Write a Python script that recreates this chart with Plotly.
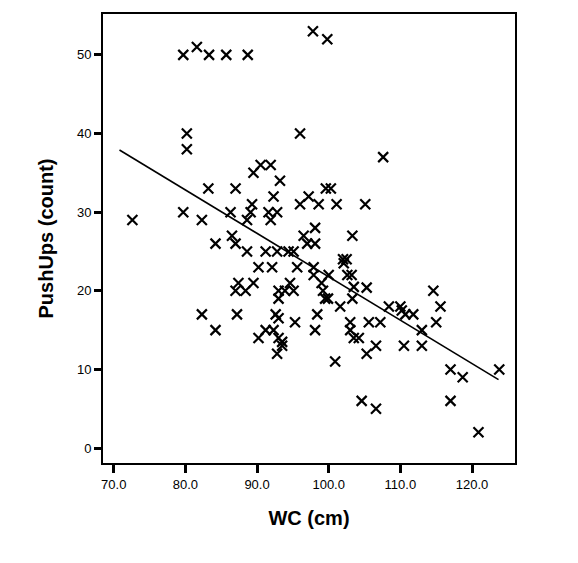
import plotly.graph_objects as go

# Waist circumference (cm) and push-ups (count)
wc = [79.7, 81.6, 83.3, 85.7, 88.7, 97.8, 99.8, 80.2, 80.2, 96.0, 107.6,
      72.6, 79.7, 82.3, 83.2, 84.2, 86.3, 87.0, 86.5, 87.0, 88.6, 88.6, 89.1,
      89.3, 89.5, 90.5, 91.9, 93.2, 92.3, 91.6, 91.9, 92.8, 90.2, 92.1, 91.2,
      92.8, 94.4, 95.1, 95.6, 96.0, 97.2, 98.6, 96.5, 98.1, 97.0, 98.1, 97.9,
      99.6, 100.3, 101.1, 105.1, 103.3, 102.0, 102.5, 100.0, 102.6, 103.2,
      87.0, 87.4, 88.4, 89.5, 93.0, 93.9, 94.6, 95.1, 93.0, 97.9, 99.0, 99.2,
      99.5, 99.9, 101.6, 103.3, 103.5, 105.3, 102.1,
      82.3, 84.2, 87.2, 90.2, 91.2, 92.6, 93.0, 92.3, 93.0, 93.5, 93.5, 92.8,
      95.3, 98.1, 98.4, 103.0, 103.0, 103.5, 104.2, 100.9, 105.6, 107.2, 106.6,
      105.3, 104.6, 106.6, 108.4, 110.0, 110.2, 110.7, 111.8, 110.5, 113.0,
      113.0, 114.6, 115.6, 115.0, 117.0, 118.7, 117.0, 120.9, 123.8]
pushups = [50, 51, 50, 50, 50, 53, 52, 40, 38, 40, 37,
           29, 30, 29, 33, 26, 30, 33, 27, 26, 25, 29, 30,
           31, 35, 36, 36, 34, 32, 30, 29, 30, 23, 23, 25,
           25, 25, 25, 23, 31, 32, 31, 27, 28, 26, 26, 23,
           33, 33, 31, 31, 27, 24, 24, 22, 22, 22,
           20, 21, 20, 21, 20, 20, 21, 20, 19, 22, 21, 20,
           19, 19, 18, 19, 20.5, 20.4, 23.5,
           17, 15, 17, 14, 15, 17, 16.5, 15, 14, 13.5, 13, 12,
           16, 15, 17, 16, 15, 14, 14, 11, 16, 16, 13,
           12, 6, 5, 18, 18, 17.5, 17, 17, 13, 15,
           13, 20, 18, 16, 10, 9, 6, 2, 10]

# Fitted regression line end points
fit_x = [70.8, 123.7]
fit_y = [37.9, 8.7]

x_ticks = [70, 80, 90, 100, 110, 120]
y_ticks = [0, 10, 20, 30, 40, 50]

font = "Liberation Sans, Arial, sans-serif"

fig = go.Figure()
fig.add_trace(go.Scatter(
    x=fit_x, y=fit_y, mode="lines",
    line=dict(color="black", width=1.6), showlegend=False, hoverinfo="skip"))
fig.add_trace(go.Scatter(
    x=wc, y=pushups, mode="markers",
    marker=dict(symbol="x-thin", size=10, line=dict(color="black", width=2.2)),
    showlegend=False))

fig.update_layout(
    width=578, height=563,
    margin=dict(l=103, r=63, t=14, b=100),
    paper_bgcolor="white", plot_bgcolor="white",
    font=dict(family=font, color="black", size=13),
    xaxis=dict(
        range=[68.5, 126.0], tickvals=x_ticks, tickformat=".1f",
        showgrid=False, zeroline=False,
        showline=True, linecolor="black", linewidth=2, mirror=True,
        ticks="outside", ticklen=8, tickwidth=2.5, tickcolor="black",
        tickfont=dict(size=13),
        title=dict(text="<b>WC (cm)</b>", font=dict(size=20), standoff=20)),
    yaxis=dict(
        range=[-1.9, 55.2], tickvals=y_ticks,
        showgrid=False, zeroline=False,
        showline=True, linecolor="black", linewidth=2, mirror=True,
        ticks="outside", ticklen=7, tickwidth=2.5, tickcolor="black",
        tickfont=dict(size=13),
        title=dict(text="<b>PushUps (count)</b>", font=dict(size=20), standoff=18)),
)

fig.write_html("out.html")
